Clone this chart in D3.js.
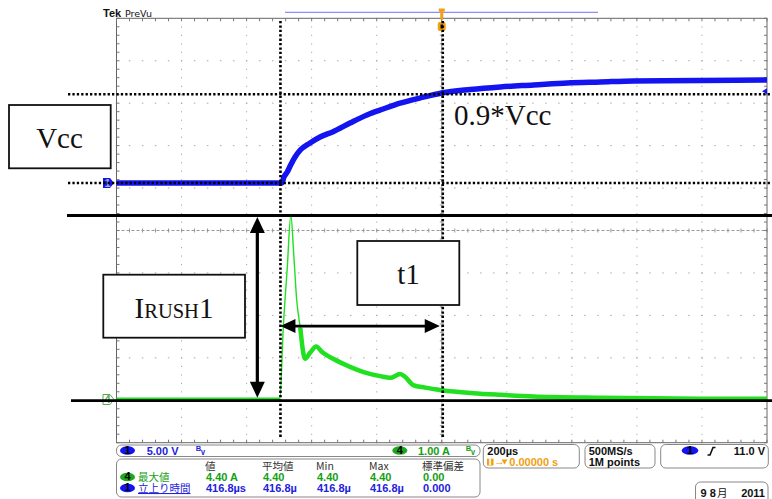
<!DOCTYPE html>
<html lang="ja">
<head>
<meta charset="UTF-8" />
<title>Inrush current</title>
<script src="https://d3js.org/d3.v7.min.js"></script>
<style>
  body { margin: 0; background: #fff; }
  svg { display: block; }
  .ro { font-family: "Liberation Sans", Arial, sans-serif; font-weight: bold; font-size: 11px; }
  .jp { font-family: "Noto Sans CJK JP", sans-serif; font-size: 10.5px; }
  .note { font-family: "Liberation Serif", "Times New Roman", serif; font-size: 29px; fill: #111; }
</style>
</head>
<body>
<svg id="chart" width="772" height="499"></svg>
<script>
// ch1 (blue): supply voltage, time in µs from trigger, volts
const ch1Time = [-1000, -492, -485, -475, -466, -451, -435, -405, -374, -334, -282, -230, -180, -128, -66, 0, 88, 180, 282, 386, 488, 590, 795, 1000];
const ch1Volts = [0, 0, 0.71, 1.30, 2.00, 3.07, 3.89, 4.72, 5.42, 6.05, 7.07, 8.02, 8.72, 9.40, 10.02, 10.61, 11.02, 11.32, 11.55, 11.79, 11.91, 12.03, 12.08, 12.14];

// ch4 (green): current, amps
const ch4Time = [-1000, -498, -487, -475, -464, -455, -446, -435, -420, -405, -386, -368, -334, -282, -229, -189, -158, -128, -112, -88, -51, 0, 97, 180, 282, 488, 795, 1000];
const ch4Amps = [0, 0, 1.73, 3.10, 4.35, 3.41, 2.35, 1.69, 0.96, 1.10, 1.25, 1.12, 0.96, 0.77, 0.62, 0.55, 0.51, 0.60, 0.53, 0.34, 0.28, 0.22, 0.15, 0.11, 0.07, 0.04, 0.02, 0.02];

// annotation values
const t1Start = -499, t1End = 0, arrowTime = -567;
const vcc90 = 10.46, trigLevel = 10.8;
const iPeakLine = 4.335, iZeroLine = -0.028, t1ArrowLevel = 1.73;

// readout table
const measHeader = ["値", "平均値", "Min", "Max", "標準偏差"];
const measRow1 = ["4.40 A", "4.40", "4.40", "4.40", "0.00"];
const measRow2 = ["416.8µs", "416.8µ", "416.8µ", "416.8µ", "0.000"];
const measCols = [206, 263, 317, 370, 423];

const blue = "#1414f0", green = "#20e020", greenTxt = "#13a013", blueTxt = "#2222dd", orange = "#f0a010";

const svg = d3.select("#chart");

const x = d3.scaleLinear().domain([-1000, 1000]).range([116.5, 767]);
const div = d3.scaleLinear().domain([-5, 5]).range([442.7, 18.3]);
const yV = d3.scaleLinear().domain([0, 5]).range([183, 183 - 42.44]);
const yA = d3.scaleLinear().domain([0, 1]).range([399.5, 399.5 - 42.44]);

// ---- graticule
const grid = svg.append("g");
const majorX = d3.range(-1000, 1001, 200);
const minorX = d3.range(-1000, 1001, 40);
const majorY = d3.range(-5, 6, 1);
const minorY = d3.range(0, 51).map((i) => -5 + i * 0.2);

majorX.filter((t) => Math.abs(t) !== 1000 && t !== 0).forEach((t) => {
  grid.selectAll(null).data(minorY).enter().append("rect")
    .attr("x", x(t) - 0.5).attr("y", (d) => div(d) - 0.5)
    .attr("width", 1).attr("height", 1.2).attr("fill", "#a8a8a8");
});
majorY.filter((d) => Math.abs(d) !== 5 && d !== 0).forEach((v) => {
  grid.selectAll(null).data(minorX).enter().append("rect")
    .attr("x", (t) => x(t) - 0.7).attr("y", div(v) - 0.5)
    .attr("width", 1.5).attr("height", 1).attr("fill", "#a8a8a8");
});

// centre cross
grid.append("line").attr("x1", x(-1000)).attr("x2", x(1000)).attr("y1", div(0)).attr("y2", div(0))
  .attr("stroke", "#999").attr("stroke-dasharray", "3,2");
grid.append("line").attr("x1", x(0)).attr("x2", x(0)).attr("y1", div(-5)).attr("y2", div(5))
  .attr("stroke", "#999").attr("stroke-dasharray", "3,2");
grid.selectAll(null).data(minorX).enter().append("line")
  .attr("x1", (t) => x(t)).attr("x2", (t) => x(t)).attr("y1", div(0) - 2).attr("y2", div(0) + 2).attr("stroke", "#999");
grid.selectAll(null).data(minorY).enter().append("line")
  .attr("y1", (d) => div(d)).attr("y2", (d) => div(d)).attr("x1", x(0) - 2).attr("x2", x(0) + 2).attr("stroke", "#999");

// border + ticks
grid.append("rect").attr("x", x(-1000)).attr("y", div(5)).attr("width", x(1000) - x(-1000)).attr("height", div(-5) - div(5))
  .attr("fill", "none").attr("stroke", "#666");
grid.selectAll(null).data(minorX).enter().append("path")
  .attr("d", (t) => `M${x(t)},${div(5)}v3M${x(t)},${div(-5)}v-3`).attr("stroke", "#777");
grid.selectAll(null).data(minorY).enter().append("path")
  .attr("d", (d) => `M${x(-1000)},${div(d)}h3M${x(1000)},${div(d)}h-3`).attr("stroke", "#777");

// ---- traces
const ch1 = ch1Time.map((t, i) => [t, ch1Volts[i]]);
const ch4 = ch4Time.map((t, i) => [t, ch4Amps[i]]);
const lineV = d3.line().x((d) => x(d[0])).y((d) => yV(d[1])).curve(d3.curveMonotoneX);
const lineA = d3.line().x((d) => x(d[0])).y((d) => yA(d[1])).curve(d3.curveMonotoneX);

svg.append("path").attr("d", lineA(ch4)).attr("fill", "none").attr("stroke", green).attr("stroke-width", 1.4);
svg.append("path").attr("d", lineA(ch4.filter((d) => d[0] <= -498))).attr("fill", "none").attr("stroke", green).attr("stroke-width", 4);
svg.append("path").attr("d", lineA(ch4.filter((d) => d[0] >= -435))).attr("fill", "none").attr("stroke", green).attr("stroke-width", 4.5);
svg.append("path").attr("d", lineV(ch1)).attr("fill", "none").attr("stroke", blue).attr("stroke-width", 5.5);

// ground + trigger markers
svg.append("path").attr("d", `M103,${yV(0) - 5}h7l4,5l-4,5h-7z`).attr("fill", blue);
svg.append("text").attr("x", 107.5).attr("y", yV(0) + 3.5).attr("class", "ro").attr("font-size", 8).attr("fill", "#aab").attr("text-anchor", "middle").text("1");
svg.append("path").attr("d", `M103,${yA(0) - 5}h7l4,5l-4,5h-7z`).attr("fill", "#fff").attr("stroke", "#5a5");
svg.append("text").attr("x", 107.5).attr("y", yA(0) + 3.5).attr("class", "ro").attr("font-size", 8).attr("fill", "#5a5").attr("text-anchor", "middle").text("4");
svg.append("path").attr("d", `M${x(1000)},${yV(trigLevel) - 3}v6l-5,-3z`).attr("fill", blue);

// ---- top bar
svg.append("text").attr("x", 103).attr("y", 17.3).attr("class", "ro").attr("font-size", 12).attr("fill", "#111").text("Tek");
svg.append("text").attr("x", 125).attr("y", 16.8).attr("font-family", "DejaVu Sans, sans-serif").attr("font-size", 9.5).attr("fill", "#111").text("PreVu");
svg.append("line").attr("x1", 285).attr("x2", 598).attr("y1", 12.3).attr("y2", 12.3).attr("stroke", "#8c8cff").attr("stroke-width", 1.3);
svg.append("path").attr("d", `M${x(0) - 3},8.5h6v3h-1.5v8h-3v-8h-1.5z`).attr("fill", orange);
svg.append("path").attr("d", `M${x(0) - 3},22h6l1,2v5l-1,2h-6l-1,-2v-5z`).attr("fill", orange);
svg.append("rect").attr("x", x(0) - 1.2).attr("y", 24.5).attr("width", 2.4).attr("height", 4).attr("fill", "#000");

// ---- annotations
const ann = svg.append("g");
const dotted = { stroke: "#000", "stroke-width": 2.6, "stroke-dasharray": "2.3,2.1" };
function styled(sel, o) { Object.entries(o).forEach(([k, v]) => sel.attr(k, v)); return sel; }

[0, vcc90].forEach((v) => styled(ann.append("line").attr("x1", 68).attr("x2", 772).attr("y1", yV(v)).attr("y2", yV(v)), dotted));
[t1Start, t1End].forEach((t) => styled(ann.append("line").attr("x1", x(t) + 1).attr("x2", x(t) + 1).attr("y1", 21).attr("y2", 437), dotted));

ann.append("line").attr("x1", 67).attr("x2", 772).attr("y1", yA(iPeakLine)).attr("y2", yA(iPeakLine)).attr("stroke", "#000").attr("stroke-width", 2.8);
ann.append("line").attr("x1", 71).attr("x2", 772).attr("y1", yA(iZeroLine)).attr("y2", yA(iZeroLine)).attr("stroke", "#000").attr("stroke-width", 2.8);

// vertical double arrow (Irush)
const ax = x(arrowTime), ay1 = yA(iPeakLine) + 1.5, ay2 = yA(iZeroLine) - 3;
ann.append("line").attr("x1", ax).attr("x2", ax).attr("y1", ay1 + 10).attr("y2", ay2 - 10).attr("stroke", "#000").attr("stroke-width", 3.2);
ann.append("path").attr("d", `M${ax},${ay1}l7.5,16h-15z`).attr("fill", "#000");
ann.append("path").attr("d", `M${ax},${ay2}l7.5,-16h-15z`).attr("fill", "#000");

// horizontal double arrow (t1)
const hy = yA(t1ArrowLevel), hx1 = x(t1Start) + 1, hx2 = x(t1End) - 2;
ann.append("line").attr("x1", hx1 + 10).attr("x2", hx2 - 10).attr("y1", hy).attr("y2", hy).attr("stroke", "#000").attr("stroke-width", 2.8);
ann.append("path").attr("d", `M${hx1},${hy}l15,-7h0v14z`).attr("fill", "#000");
ann.append("path").attr("d", `M${hx2},${hy}l-15,-7v14z`).attr("fill", "#000");

// label boxes
function box(x0, y0, w, h) {
  ann.append("rect").attr("x", x0).attr("y", y0).attr("width", w).attr("height", h)
    .attr("fill", "#fff").attr("stroke", "#111").attr("stroke-width", 1.8);
}
box(9, 105, 101.7, 63.3);
ann.append("text").attr("class", "note").attr("x", 59.5).attr("y", 147.5).attr("text-anchor", "middle").text("Vcc");
box(103.3, 274.7, 141.7, 63);
const ir = ann.append("text").attr("class", "note").attr("x", 174).attr("y", 318).attr("text-anchor", "middle");
ir.append("tspan").text("I");
ir.append("tspan").attr("font-size", 20.5).text("RUSH");
ir.append("tspan").text("1");
box(357.3, 241, 102, 64);
ann.append("text").attr("class", "note").attr("x", 408.5).attr("y", 284).attr("text-anchor", "middle").text("t1");
ann.append("text").attr("class", "note").attr("x", 454).attr("y", 125).text("0.9*Vcc");

// ---- readouts
const ro = svg.append("g");
function rbox(x0, y0, w, h) {
  ro.append("rect").attr("x", x0).attr("y", y0).attr("width", w).attr("height", h).attr("rx", 5)
    .attr("fill", "#fff").attr("stroke", "#888").attr("stroke-width", 1);
}
function pill(cx, cy, fill, label, rx = 7.5) {
  ro.append("ellipse").attr("cx", cx).attr("cy", cy).attr("rx", rx).attr("ry", 4.3).attr("fill", fill);
  ro.append("text").attr("class", "ro").attr("font-size", 9).attr("x", cx).attr("y", cy + 3.3).attr("text-anchor", "middle").attr("fill", "#000").text(label);
}
function txt(x0, y0, s, fill, cls = "ro") {
  return ro.append("text").attr("class", cls).attr("x", x0).attr("y", y0).attr("fill", fill).text(s);
}

rbox(116.5, 445, 363.5, 11.5);
pill(127.5, 450.5, blue, "1");
txt(146.7, 454.5, "5.00 V", blueTxt);
txt(196, 453.5, "ᴮᵥ", blueTxt).attr("font-size", 8).attr("font-weight", "normal");
pill(399.8, 450.5, "#1fa81f", "4");
txt(418, 454.5, "1.00 A", greenTxt);
txt(466, 453.5, "ᴮᵥ", greenTxt).attr("font-size", 8).attr("font-weight", "normal");

rbox(116.5, 459, 363.5, 38);
measHeader.forEach((s, i) => txt(measCols[i] - 1, 470, s, "#333", "jp").attr("font-size", 10.5));
pill(127.5, 477, "#1fa81f", "4");
txt(138, 481, "最大値", greenTxt, "jp").attr("font-size", 11);
measRow1.forEach((s, i) => txt(measCols[i], 481, s, greenTxt));
pill(127.5, 488, blue, "1");
txt(138, 492, "立上り時間", blueTxt, "jp").attr("font-size", 11).attr("text-decoration", "underline");
measRow2.forEach((s, i) => txt(measCols[i], 492, s, blueTxt));

rbox(483.3, 444.5, 96, 23.5);
txt(487.3, 454.5, "200µs", "#111");
ro.append("rect").attr("x", 487).attr("y", 458.5).attr("width", 6.5).attr("height", 7).attr("fill", orange);
txt(490.2, 465, "T", "#fff").attr("font-size", 7).attr("text-anchor", "middle");
txt(494, 465, "→", orange).attr("font-size", 8).attr("font-weight", "normal");
ro.append("path").attr("d", "M501.5,459.5h6l-3,5z").attr("fill", orange);
txt(509.3, 465.5, "0.00000 s", orange);

rbox(585, 444.5, 70, 23.5);
txt(588.7, 454.5, "500MS/s", "#111");
txt(588.7, 465.5, "1M points", "#111");

rbox(660.7, 444.5, 107.6, 23.5);
pill(690, 450.5, blue, "1", 8.3);
ro.append("path").attr("d", "M707.5,455h2.5l3,-7.5h2.5").attr("fill", "none").attr("stroke", "#111").attr("stroke-width", 1.6);
txt(765, 454.5, "11.0 V", "#111").attr("text-anchor", "end");

rbox(695.5, 482, 72.5, 22);
txt(700.5, 496.5, "9 8", "#111").attr("font-size", 10.5);
txt(717, 496.5, "月", "#111", "jp").attr("font-size", 10);
txt(765, 496.5, "2011", "#111").attr("font-size", 10.5).attr("text-anchor", "end");
</script>
</body>
</html>
